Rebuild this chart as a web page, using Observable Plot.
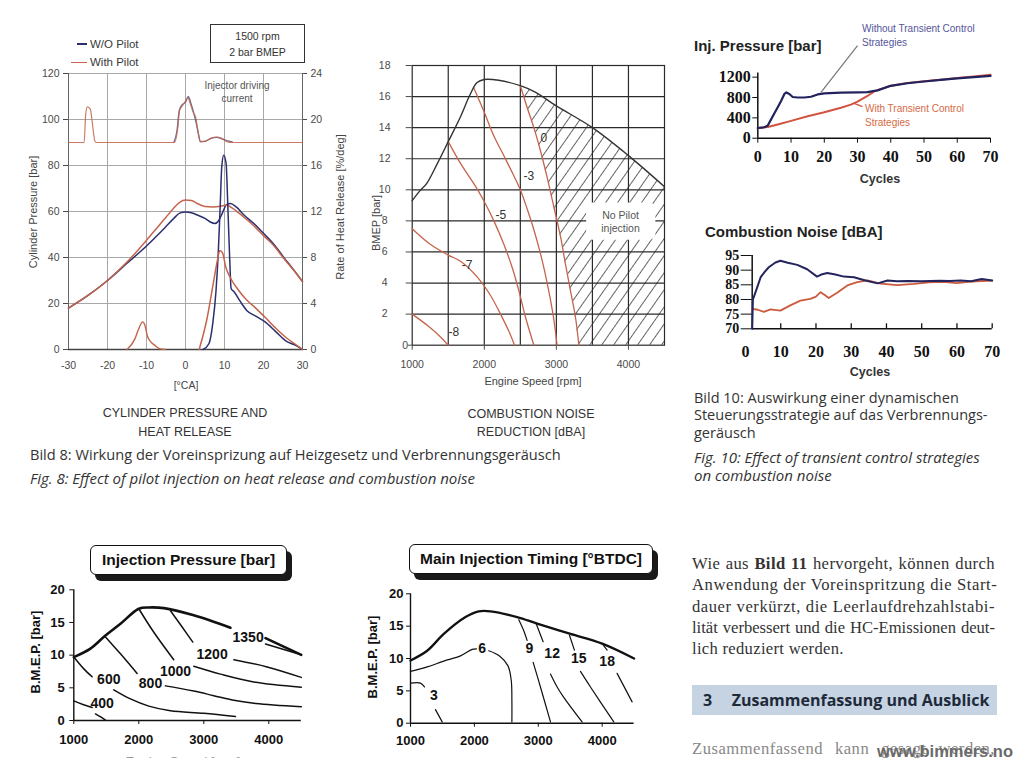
<!DOCTYPE html>
<html><head><meta charset="utf-8">
<script src="https://cdn.jsdelivr.net/npm/d3@7"></script>
<script src="https://cdn.jsdelivr.net/npm/@observablehq/plot@0.6"></script>
<style>
html,body{margin:0;padding:0;background:#fff;overflow:hidden;}
#page{position:relative;width:1024px;height:758px;overflow:hidden;background:#fff;font-family:"Liberation Sans",Arial,sans-serif;}
#page svg{position:absolute;overflow:visible;}
</style></head><body><div id="page"></div>
<script>
// ---------- Fig. 8 left: cylinder pressure & heat release ----------
const caTicks = [-30,-20,-10,0,10,20,30];
const pressureTicks = [0,20,40,60,80,100,120];
const pressureWoPilot = [[-30,18],[-25,23.5],[-20,30],[-15,37.5],[-10,45],[-7,50],[-5,53.5],[-3,57],[-1.5,59.3],[0,59.8],[1.5,59.5],[3,58.5],[5,57],[6.5,55.3],[7.5,54.8],[8.5,56],[9.5,59.5],[10.5,63],[11.5,63.5],[13,62],[15,58.5],[18,54],[20,50.5],[23,45],[25,40.5],[28,34],[30,29.5]];
const pressureWithPilot = [[-30,18],[-25,23.5],[-20,30],[-15,38],[-10,47.5],[-7,53.5],[-5,57.5],[-3,61.5],[-1.5,64],[0,65],[1.5,64.8],[3,63.5],[5,62.2],[7,62],[9,62.3],[10.5,62.8],[12,61.5],[15,57.5],[18,53],[20,49.5],[23,44.5],[25,40],[28,34],[30,29.5]];
// rate of heat release in %/deg (right axis)
const rohrWoPilot = [[4.5,0],[6,0.5],[7,2.3],[7.8,5],[8.4,8.4],[8.9,12.5],[9.3,15.9],[9.8,16.9],[10.4,16.2],[10.9,12],[11.3,8.2],[11.7,5.3],[12.5,5],[14,4.2],[15.7,3.4],[18,2.9],[20.4,2.4],[23,1.6],[25.9,0.7],[28,0.4],[30,0]];
const rohrWithPilotPre = [[-15,0],[-13,0.9],[-12,1.8],[-11,2.4],[-10.4,2.1],[-9.8,1.2],[-9,0.7],[-8,0.4],[-6.5,0.05],[-5.2,0]];
const rohrWithPilotMain = [[3.5,0],[5.4,2.5],[7.1,5.7],[8.2,7.8],[8.8,8.6],[9.5,8.4],[10.3,7.2],[11.4,6.3],[13.5,5.2],[15.7,4.3],[18,3.6],[20.4,2.8],[23,1.9],[25.9,1.0],[28,0.5],[30,0]];
// injector driving current (drawn on the pressure scale, baseline 90)
const currentWoPilot = [[-3,90],[-2.2,95],[-1.6,104],[-0.8,106.5],[0,107.5],[0.7,110],[1.4,107],[2.1,103],[2.8,98],[3.4,93],[3.8,90.3],[5,90.5],[6.5,91.8],[8,92.2],[9.3,91.6],[10.5,90.8],[12,90.3]];
const currentWithPilot = [[-30,90],[-26,90],[-25.6,102],[-25.2,105.5],[-24.4,104.5],[-24,100],[-23.3,91],[-23,90],[-2.8,90],[-2,96],[-1.5,104],[-0.8,106],[0,108],[0.6,109.5],[1.2,107],[2,103],[2.6,101],[3.2,95],[3.8,90.5],[5,90.5],[6.5,91.8],[8,92.4],[9.3,91.8],[10.5,90.5],[12,90],[30,90]];

// ---------- Fig. 8 right: combustion noise reduction map ----------
const speedTicks = [1000,2000,3000,4000];
const bmepTicks = [0,2,4,6,8,10,12,14,16,18];
const fullLoadBmep = [[1000,9.3],[1100,9.9],[1200,10.4],[1350,11.7],[1500,13.1],[1670,14.7],[1800,16.1],[1900,16.9],[2000,17.1],[2200,17.05],[2500,16.7],[2700,16.3],[3000,15.4],[3500,14.0],[4000,12.2],[4500,10.2]];
const noiseM8 = [[1000,2.0],[1230,1.2],[1400,0.5],[1500,0]];
const noiseM7 = [[1000,7.5],[1250,6.5],[1500,5.8],[1670,5.4],[1900,4.4],[2087,3.2],[2225,2.0],[2341,0.9],[2420,0]];
const noiseM5 = [[1500,13.1],[1670,11.7],[1855,10.4],[1994,9.3],[2133,8.0],[2271,6.5],[2387,5.0],[2480,3.5],[2572,1.8],[2688,0]];
const noiseM3 = [[1850,16.6],[1990,15.1],[2130,13.5],[2260,12.3],[2400,11.0],[2500,10.0],[2600,8.7],[2690,7.4],[2790,5.7],[2890,3.6],[2960,1.8],[3010,0]];
const noise0 = [[2500,16.7],[2595,15.3],[2688,14.0],[2780,12.5],[2872,10.8],[2965,8.9],[3057,7.0],[3127,5.2],[3196,3.5],[3265,1.8],[3312,0]];
const noiseLabels = [["0",2825,13.3],["-3",2617,10.9],["-5",2230,8.35],["-7",1763,5.13],["-8",1577,0.85]];
const noPilotLabel = {text: "No Pilot\ninjection", x: 3890, y: 7.95, x1: 3420, x2: 4380, y1: 6.75, y2: 9.15};

// ---------- Fig. 10 ----------
const cycleTicks = [0,10,20,30,40,50,60,70];
const injPressureTicks = [0,400,800,1200];
const injWithout = [[0,200],[2,215],[3,250],[4,370],[5,490],[6,610],[7,730],[8,870],[8.6,900],[9.5,870],[10.5,810],[12,800],[14,800],[16,815],[18,860],[20,880],[25,895],[30,900],[33,905],[36,940],[40,1030],[45,1080],[50,1115],[55,1145],[60,1175],[65,1200],[70,1225]];
const injWith = [[0,200],[3,220],[6,270],[10,340],[15,430],[20,510],[25,600],[28,660],[30,720],[33,830],[35,920],[40,1030],[45,1085],[50,1120],[55,1150],[60,1185],[65,1215],[70,1250]];
const noiseTicks = [70,75,80,85,90,95];
const noiseWithout = [[1.9,70],[2.1,80],[3,83],[4.3,87.6],[5.5,89.5],[6.6,91],[8.5,92.6],[9.9,93.2],[12,92.5],[14.7,91.8],[17.5,90.3],[20.3,87.8],[21.5,88.5],[23.2,89],[25.5,88.5],[27.9,87.8],[30.8,87.6],[32.5,87],[34.6,86.3],[37.5,85.5],[40.3,86.5],[43,86.2],[46,86.3],[50,86.2],[55,86.4],[58,86.3],[61,86.5],[64,86.2],[67,87],[70,86.5]];
const noiseWith = [[1.9,76.8],[3.5,76.5],[5.2,75.8],[7.1,76.6],[9.9,76.2],[12.7,78],[15.6,79.6],[18.4,80.2],[20,81],[21.3,82.5],[22.5,81.5],[23.6,80.5],[26,82.3],[28.9,84.8],[31.7,85.9],[34.6,86.5],[38.4,85.4],[43.1,84.9],[47.8,85.3],[52,85.8],[56,86],[60,85.6],[64,86.1],[67,86.3],[70,86.4]];

// ---------- Fig. 11 maps ----------
const mapBmepTicks = [0,5,10,15,20];
const ipFullLoad = [["a",[[1000,9.7],[1256,11],[1487,13],[1718,14.8],[2000,17.1],[2154,17.3],[2385,17.2],[2846,16.1],[3410,14.2]]],["b",[[3949,12.6],[4500,10.05]]]];
const ipContours = [
 ["400a",[[1000,3.0],[1140,2.45],[1282,2.0]]],["400b",[[1333,1.0],[1420,0.5],[1487,0.05]]],
 ["600a",[[1010,9.6],[1154,7.9],[1282,6.7]]],["600b",[[1615,4.7],[1872,3.3],[2154,2.2],[2487,1.5],[3000,1.1],[3487,0.6]]],
 ["800a",[[1477,12.9],[1718,10.2],[1974,7.2]]],["800b",[[2410,5.3],[2846,4.5],[3154,3.8],[3462,3.1],[3800,2.6],[4500,2.1]]],
 ["1000a",[[2000,17.1],[2231,13.5],[2538,9.3]]],["1000b",[[2846,8.3],[3256,7.1],[3769,5.9],[4500,5.1]]],
 ["1200a",[[2487,16.8],[2667,14.3],[2831,12.0]]],["1200b",[[3462,9.3],[3974,8.2],[4500,6.6]]],
 ["1350",[[3949,11.7],[4500,10.05]]]
];
const ipLabels = [["400",1436,2.55],["600",1538,6.2],["800",2180,5.7],["1000",2564,7.5],["1200",3128,10.1],["1350",3682,12.7]];
const mitFullLoad = [[1000,9.7],[1261,11.2],[1521,13.8],[1861,16.4],[2069,17.3],[2252,17.3],[2669,16.4],[2982,15.4],[3504,13.8],[4000,12.3],[4500,10.0]];
const mitContours = [
 ["3a",[[1000,6.2],[1156,6.2],[1219,5.6]]],["3b",[[1391,2.1],[1496,0.2]]],
 ["6a",[[1000,8.0],[1261,8.7],[1521,9.6],[1782,10.4],[1965,11.4],[2033,11.5]]],["6b",[[2226,11.2],[2393,10.4],[2524,8.9],[2577,6.6],[2587,3.5],[2587,0.2]]],
 ["9a",[[2695,16.0],[2773,14.3],[2825,12.8]]],["9b",[[2920,9.4],[3034,5.6],[3191,0.2]]],
 ["12a",[[2966,15.4],[3076,12.6]]],["12b",[[3191,7.6],[3295,5.6],[3399,4.0],[3686,0.2]]],
 ["15a",[[3488,13.6],[3566,11.3]]],["15b",[[3660,8.0],[3817,5.6],[4182,0.2]]],
 ["18a",[[4000,12.3],[4078,11.3]]],["18b",[[4234,7.7],[4469,3.3]]]
];
const mitLabels = [["3",1365,4.3],["6",2121,11.5],["9",2862,11.5],["12",3217,10.7],["15",3634,10],["18",4078,9.5]];

// ---------- body text ----------
const bodyLines = ["Wie aus <b>Bild 11</b> hervorgeht, können durch", "Anwendung der Voreinspritzung die Start-", "dauer verkürzt, die Leerlaufdrehzahlstabi-", "lität verbessert und die HC-Emissionen deut-", "lich reduziert werden."];

// ================= rendering =================
const page = document.getElementById("page");
const SANS = "'Liberation Sans', Arial, Helvetica, sans-serif";
const SERIF = "'Liberation Serif', 'Times New Roman', serif";
const CAP = "'Open Sans', 'Noto Sans', sans-serif";
const BLUE = "#2c2f6e", RED = "#c4644c";
const plain = d => String(d);

function put(svg, left, top) { svg.style.left = left + "px"; svg.style.top = top + "px"; page.appendChild(svg); return svg; }
function addText(html, x, y, o = {}) {
  const d = document.createElement("div");
  d.innerHTML = html;
  const a = o.anchor || "middle";
  const tx = a === "start" ? "0" : a === "end" ? "-100%" : "-50%";
  Object.assign(d.style, {
    position: "absolute", left: x + "px", top: y + "px", whiteSpace: "nowrap",
    lineHeight: o.lh || "1.15", fontSize: (o.size || 12) + "px", fontFamily: o.family || SANS,
    fontWeight: o.weight || "normal", fontStyle: o.italic ? "italic" : "normal", color: o.color || "#333",
    letterSpacing: o.ls || "normal",
    textAlign: a === "middle" ? "center" : a === "end" ? "right" : "left",
    transform: `translate(${tx},-50%)` + (o.rotate ? ` rotate(${o.rotate}deg)` : ""), transformOrigin: "center"
  });
  if (o.justify) Object.assign(d.style, {width: o.justify + "px", textAlign: "justify", textAlignLast: "justify"});
  page.appendChild(d); return d;
}
function addBox(left, top, w, h, style) {
  const d = document.createElement("div");
  Object.assign(d.style, {position: "absolute", left: left + "px", top: top + "px", width: w + "px", height: h + "px", boxSizing: "border-box"}, style);
  page.appendChild(d); return d;
}
const px = d => d[0], py = d => d[1];
const flat = segs => segs.flatMap(([id, pts]) => pts.map(p => ({id, x: p[0], y: p[1]})));

// ---- chart 1
put(Plot.plot({
  width: 360, height: 400, marginLeft: 68, marginRight: 58, marginTop: 73, marginBottom: 51,
  x: {domain: [-30, 30]}, y: {domain: [0, 120]},
  style: {fontFamily: SANS, fontSize: "10.5px", color: "#4a4a4a", background: "transparent"},
  marks: [
    Plot.gridX({ticks: [-20, -10, 0, 10, 20], stroke: "#a8a8a8", strokeOpacity: 1}),
    Plot.gridY({ticks: [20, 40, 60, 80, 100, 120], stroke: "#a8a8a8", strokeOpacity: 1}),
    Plot.ruleX([-30, 30], {stroke: "#666"}),
    Plot.ruleY([0], {stroke: "#444", strokeWidth: 1.3}),
    Plot.axisX({ticks: caTicks, tickFormat: plain, tickSize: 0, tickPadding: 12, label: null}),
    Plot.axisY({ticks: pressureTicks, tickFormat: plain, tickSize: 5, tickPadding: 4, label: null}),
    Plot.axisY({anchor: "right", ticks: pressureTicks, tickFormat: d => String(d / 5), tickSize: 4, tickPadding: 4, label: null}),
    Plot.line(currentWoPilot, {x: px, y: py, stroke: BLUE, strokeWidth: 1.3, strokeOpacity: 0.7, curve: "monotone-x"}),
    Plot.line(currentWithPilot, {x: px, y: py, stroke: RED, strokeWidth: 1.2, strokeOpacity: 0.85, curve: "monotone-x"}),
    Plot.line(pressureWoPilot, {x: px, y: py, stroke: BLUE, strokeWidth: 1.5, curve: "monotone-x"}),
    Plot.line(pressureWithPilot, {x: px, y: py, stroke: RED, strokeWidth: 1.5, curve: "monotone-x"}),
    Plot.line(rohrWoPilot, {x: px, y: d => d[1] * 5, stroke: BLUE, strokeWidth: 1.5, curve: "monotone-x"}),
    Plot.line(rohrWithPilotPre, {x: px, y: d => d[1] * 5, stroke: RED, strokeWidth: 1.4, curve: "monotone-x"}),
    Plot.line(rohrWithPilotMain, {x: px, y: d => d[1] * 5, stroke: RED, strokeWidth: 1.5, curve: "monotone-x"})
  ]
}), 0, 0);
addBox(77, 43.3, 10, 1.6, {background: BLUE});
addBox(71, 61.8, 16, 1.6, {background: RED});
addText("W/O Pilot", 90, 44.5, {anchor: "start", size: 11.5, color: "#3a3a3a"});
addText("With Pilot", 90, 62.5, {anchor: "start", size: 11.5, color: "#3a3a3a"});
addBox(210, 24, 95, 39, {border: "1.6px solid #333"});
addText("1500 rpm<br>2 bar BMEP", 257.5, 43.5, {size: 10.5, lh: "16px", color: "#333"});
addText("Injector driving<br>current", 237, 91.5, {size: 10, lh: "13.5px", color: "#555"});
addText("Cylinder Pressure [bar]", 33, 212, {size: 11, rotate: -90, color: "#444"});
addText("Rate of Heat Release [%/deg]", 340, 207, {size: 11, rotate: -90, color: "#444"});
addText("[°CA]", 186, 385, {size: 10.5, color: "#444"});
addText("CYLINDER PRESSURE AND<br>HEAT RELEASE", 185, 422, {size: 12.5, lh: "18.5px", color: "#333"});

// ---- chart 2
const interpX = (line, y) => {
  for (let i = 0; i < line.length - 1; i++) {
    const [x0, y0] = line[i], [x1, y1] = line[i + 1];
    if ((y - y0) * (y - y1) <= 0 && y0 !== y1) return x0 + (y - y0) / (y1 - y0) * (x1 - x0);
  }
  return line[line.length - 1][0];
};
const fullLoadDesc = fullLoadBmep.filter(d => d[0] >= noise0[0][0]);
const edgeY = fullLoadDesc[fullLoadDesc.length - 1][1];
const hatchYs = Array.from(new Set([...noise0.map(py), ...fullLoadDesc.map(py)].filter(y => y <= noise0[0][1]))).sort((a, b) => a - b);
const hatchRows = hatchYs.map(y => ({y, x1: interpX(noise0, y), x2: y <= edgeY ? 4500 : interpX(fullLoadDesc, y)}));
const svg2 = Plot.plot({
  width: 320, height: 350, marginLeft: 51.7, marginRight: 16, marginTop: 25, marginBottom: 45.3,
  x: {domain: [1000, 4500]}, y: {domain: [0, 18]},
  style: {fontFamily: SANS, fontSize: "10.5px", color: "#4a4a4a", background: "transparent"},
  marks: [
    Plot.areaX(hatchRows, {y: "y", x1: "x1", x2: "x2", fill: "url(#hatchNoise)", curve: "linear"}),
    Plot.gridX({ticks: d3.range(1500, 4500, 500), stroke: "#2a2a2a", strokeOpacity: 1, strokeWidth: 1.2}),
    Plot.gridY({ticks: d3.range(2, 18, 2), stroke: "#2a2a2a", strokeOpacity: 1, strokeWidth: 1.2}),
    Plot.frame({stroke: "#2a2a2a", strokeWidth: 1.2}),
    Plot.axisX({ticks: speedTicks, tickFormat: plain, tickSize: 5, tickPadding: 10, label: null}),
    Plot.axisY({ticks: bmepTicks.filter(d => d > 0), tickFormat: plain, tickSize: 6, tickPadding: 21.5, textAnchor: "middle", label: null}),
    Plot.axisY({ticks: [0], tickFormat: plain, tickSize: 4, tickPadding: 0, label: null}),
    Plot.line(noiseM8, {x: px, y: py, stroke: RED, strokeWidth: 1.3, curve: "catmull-rom"}),
    Plot.line(noiseM7, {x: px, y: py, stroke: RED, strokeWidth: 1.3, curve: "catmull-rom"}),
    Plot.line(noiseM5, {x: px, y: py, stroke: RED, strokeWidth: 1.3, curve: "catmull-rom"}),
    Plot.line(noiseM3, {x: px, y: py, stroke: RED, strokeWidth: 1.3, curve: "catmull-rom"}),
    Plot.line(noise0, {x: px, y: py, stroke: RED, strokeWidth: 1.3, curve: "catmull-rom"}),
    Plot.line(fullLoadBmep, {x: px, y: py, stroke: "#333", strokeWidth: 1.4, curve: "catmull-rom"}),
    Plot.text(noiseLabels, {x: d => d[1], y: d => d[2], text: d => d[0], fontSize: 12, fill: "#333"}),
    Plot.rect([noPilotLabel], {x1: "x1", x2: "x2", y1: "y1", y2: "y2", fill: "white", rx: 6}),
    Plot.text([noPilotLabel], {x: "x", y: "y", text: "text", fontSize: 10.5, fill: "#555", lineHeight: 1.25})
  ]
});
{
  const ns = "http://www.w3.org/2000/svg";
  const defs = document.createElementNS(ns, "defs");
  const pat = document.createElementNS(ns, "pattern");
  pat.setAttribute("id", "hatchNoise"); pat.setAttribute("patternUnits", "userSpaceOnUse");
  pat.setAttribute("width", "9.8"); pat.setAttribute("height", "10"); pat.setAttribute("patternTransform", "rotate(35)");
  const ln = document.createElementNS(ns, "line");
  ln.setAttribute("x1", "0"); ln.setAttribute("y1", "0"); ln.setAttribute("x2", "0"); ln.setAttribute("y2", "10");
  ln.setAttribute("stroke", "#222"); ln.setAttribute("stroke-width", "1.4");
  pat.appendChild(ln); defs.appendChild(pat); svg2.insertBefore(defs, svg2.firstChild);
}
put(svg2, 360, 40);
addText("BMEP [bar]", 376, 223, {size: 11, rotate: -90, color: "#444"});
addText("Engine Speed [rpm]", 533, 381, {size: 11, color: "#444"});
addText("COMBUSTION NOISE<br>REDUCTION [dBA]", 531, 422.5, {size: 12.5, lh: "18.5px", color: "#333"});

// captions Fig 8
addText("Bild 8: Wirkung der Voreinsprizung auf Heizgesetz und Verbrennungsgeräusch", 30, 454, {anchor: "start", size: 14.6, family: CAP, color: "#333"});
addText("Fig. 8: Effect of pilot injection on heat release and combustion noise", 30, 479, {anchor: "start", size: 15, family: CAP, italic: true, color: "#333"});

// ---- chart 3: injection pressure
put(Plot.plot({
  width: 330, height: 110, marginLeft: 77.3, marginRight: 20, marginTop: 12.6, marginBottom: 32.3,
  x: {domain: [0, 70]}, y: {domain: [0, 1280]},
  style: {fontFamily: SERIF, fontSize: "16px", fontWeight: "bold", color: "#111", background: "transparent"},
  marks: [
    Plot.ruleX([0], {stroke: "#111", strokeWidth: 1.5}),
    Plot.ruleY([0], {stroke: "#111", strokeWidth: 1.5}),
    Plot.axisX({ticks: cycleTicks, tickFormat: plain, tickSize: 5, tickPadding: 7, label: null}),
    Plot.axisY({ticks: injPressureTicks, tickFormat: plain, tickSize: 5, tickPadding: 2, label: null}),
    Plot.line(injWith, {x: px, y: py, stroke: "#d2533f", strokeWidth: 2}),
    Plot.line(injWithout, {x: px, y: py, stroke: "#22235e", strokeWidth: 2.2}),
    Plot.link([[19, 900, 30, 1820]], {x1: d => d[0], y1: d => d[1], x2: d => d[2], y2: d => d[3], stroke: "#777", strokeWidth: 1.2}),
    Plot.link([[28.8, 690, 31.5, 620]], {x1: d => d[0], y1: d => d[1], x2: d => d[2], y2: d => d[3], stroke: "#d2533f", strokeWidth: 1.2})
  ]
}), 680, 60);
addText("Inj. Pressure [bar]", 694, 46, {anchor: "start", size: 15, weight: "bold", color: "#222"});
addText("Without Transient Control<br>Strategies", 862, 35.5, {anchor: "start", size: 10, lh: "14.5px", color: "#55559a"});
addText("With Transient Control<br>Strategies", 865, 115, {anchor: "start", size: 10, lh: "13.5px", color: "#d66a45"});
addText("Cycles", 880, 178.5, {size: 12.5, weight: "bold", color: "#333"});

// ---- chart 4: combustion noise
put(Plot.plot({
  width: 330, height: 130, marginLeft: 65, marginRight: 18.3, marginTop: 15, marginBottom: 41.7,
  x: {domain: [0, 70]}, y: {domain: [70, 95]},
  style: {fontFamily: SERIF, fontSize: "16px", fontWeight: "bold", color: "#111", background: "transparent"},
  marks: [
    Plot.ruleX([1.9], {stroke: "#111", strokeWidth: 1.5}),
    Plot.ruleY([70], {x1: 1.9, x2: 70, stroke: "#111", strokeWidth: 1.5}),
    Plot.ruleX(cycleTicks.filter(d => d > 0), {x: d => d, y1: 70, y2: 71.7, stroke: "#111", strokeWidth: 1.3}),
    Plot.axisX({ticks: cycleTicks, tickFormat: plain, tickSize: 0, tickPadding: 17, label: null}),
    Plot.axisY({ticks: noiseTicks, tickFormat: plain, dx: 6.7, tickSize: 11, tickPadding: 2, fontSize: 14, label: null}),
    Plot.line(noiseWith, {x: px, y: py, stroke: "#cc5a3e", strokeWidth: 1.8}),
    Plot.line(noiseWithout, {x: px, y: py, stroke: "#24245e", strokeWidth: 2})
  ]
}), 680, 240);
addText("Combustion Noise [dBA]", 705, 232, {anchor: "start", size: 15, weight: "bold", color: "#222"});
addText("Cycles", 870, 371.5, {size: 12.5, weight: "bold", color: "#333"});
addText("Bild 10: Auswirkung einer dynamischen<br>Steuerungsstrategie auf das Verbrennungs-<br>geräusch", 694, 414.5, {anchor: "start", size: 14.5, lh: "17.5px", family: CAP, color: "#333"});
addText("Fig. 10: Effect of transient control strategies<br>on combustion noise", 694, 466, {anchor: "start", size: 15, lh: "18px", family: CAP, italic: true, color: "#333"});

// ---- chart 5: injection pressure map
const mapStyle = {fontFamily: SANS, fontSize: "13px", fontWeight: "bold", color: "#111", background: "transparent"};
put(Plot.plot({
  width: 330, height: 190, marginLeft: 73.3, marginRight: 29.2, marginTop: 9.3, marginBottom: 50,
  x: {domain: [1000, 4500]}, y: {domain: [0, 20]}, style: mapStyle,
  marks: [
    Plot.ruleX([1000], {stroke: "#111", strokeWidth: 1.4}),
    Plot.ruleY([0], {stroke: "#111", strokeWidth: 1.4}),
    Plot.axisX({ticks: speedTicks, tickFormat: plain, tickSize: 4, tickPadding: 10, label: null}),
    Plot.axisY({ticks: mapBmepTicks, tickFormat: plain, tickSize: 4, tickPadding: 5, label: null}),
    Plot.line(flat(ipContours), {x: "x", y: "y", z: "id", stroke: "#111", strokeWidth: 1.5, curve: "catmull-rom"}),
    Plot.line(flat(ipFullLoad), {x: "x", y: "y", z: "id", stroke: "#111", strokeWidth: 2.6, curve: "catmull-rom"}),
    Plot.text(ipLabels, {x: d => d[1], y: d => d[2], text: d => d[0], fontSize: 14, fontWeight: "bold", fill: "#111"})
  ]
}), 0, 580);
addBox(90, 545, 197, 30, {border: "1.5px solid #111", borderRadius: "6px", background: "#fff", boxShadow: "5px 6px 0 #1a1a1a"});
addText("Injection Pressure [bar]", 188.5, 560, {size: 15.5, weight: "bold", color: "#111"});
addText("B.M.E.P. [bar]", 36, 652, {size: 13, weight: "bold", rotate: -90, color: "#111"});
addText("Engine Speed [rpm]", 183, 762, {size: 13, color: "#999"});

// ---- chart 6: main injection timing map
put(Plot.plot({
  width: 330, height: 190, marginLeft: 70, marginRight: 36.4, marginTop: 13.3, marginBottom: 47.3,
  x: {domain: [1000, 4500]}, y: {domain: [0, 20]}, style: mapStyle,
  marks: [
    Plot.ruleX([1000], {stroke: "#111", strokeWidth: 1.4}),
    Plot.ruleY([0], {stroke: "#111", strokeWidth: 1.4}),
    Plot.axisX({ticks: speedTicks, tickFormat: plain, tickSize: 4, tickPadding: 9, label: null}),
    Plot.axisY({ticks: mapBmepTicks, tickFormat: plain, tickSize: 4, tickPadding: 3, label: null}),
    Plot.line(flat(mitContours), {x: "x", y: "y", z: "id", stroke: "#111", strokeWidth: 1.2, curve: "catmull-rom"}),
    Plot.line(mitFullLoad, {x: px, y: py, stroke: "#111", strokeWidth: 2.3, curve: "catmull-rom"}),
    Plot.text(mitLabels, {x: d => d[1], y: d => d[2], text: d => d[0], fontSize: 14, fontWeight: "bold", fill: "#111"})
  ]
}), 340, 580);
addBox(409, 544, 244, 29.5, {border: "1.5px solid #111", borderRadius: "6px", background: "#fff", boxShadow: "5px 6px 0 #1a1a1a"});
addText("Main Injection Timing [°BTDC]", 531, 559, {size: 15.5, weight: "bold", color: "#111"});
addText("B.M.E.P. [bar]", 373, 657, {size: 13, weight: "bold", rotate: -90, color: "#111"});
addText("Engine Speed [rpm]", 521, 763, {size: 13, color: "#999"});

// ---- body text (justified column)
const bodyY = [563.3, 584.3, 605.7, 627.3, 648.3];
const bodySpacing = ["0.4px", "0.6px", "0.55px", "normal", "0.3px"];
bodyLines.forEach((line, i) => {
  const last = i === bodyLines.length - 1;
  addText(line, 692, bodyY[i], {anchor: "start", size: 16.6, lh: "21px", family: SERIF, color: "#333", ls: bodySpacing[i], justify: last ? null : 303});
});
addBox(691.7, 685, 305, 30, {background: "#c6d3e2"});
addText("3", 703, 700, {anchor: "start", size: 16, weight: "bold", family: CAP, color: "#1e2a3a"});
addText("Zusammenfassung und Ausblick", 731.7, 700, {anchor: "start", size: 16, weight: "bold", family: CAP, color: "#1e2a3a"});
addText("Zusammenfassend kann gesagt werden,", 692, 747.5, {anchor: "start", size: 16.6, lh: "21px", family: SERIF, color: "#888", ls: "0.5px", justify: 303});
addText("www.bimmers.no", 877, 750.5, {anchor: "start", size: 16.5, weight: "bold", color: "#6a6a6a"});
</script></body></html>
